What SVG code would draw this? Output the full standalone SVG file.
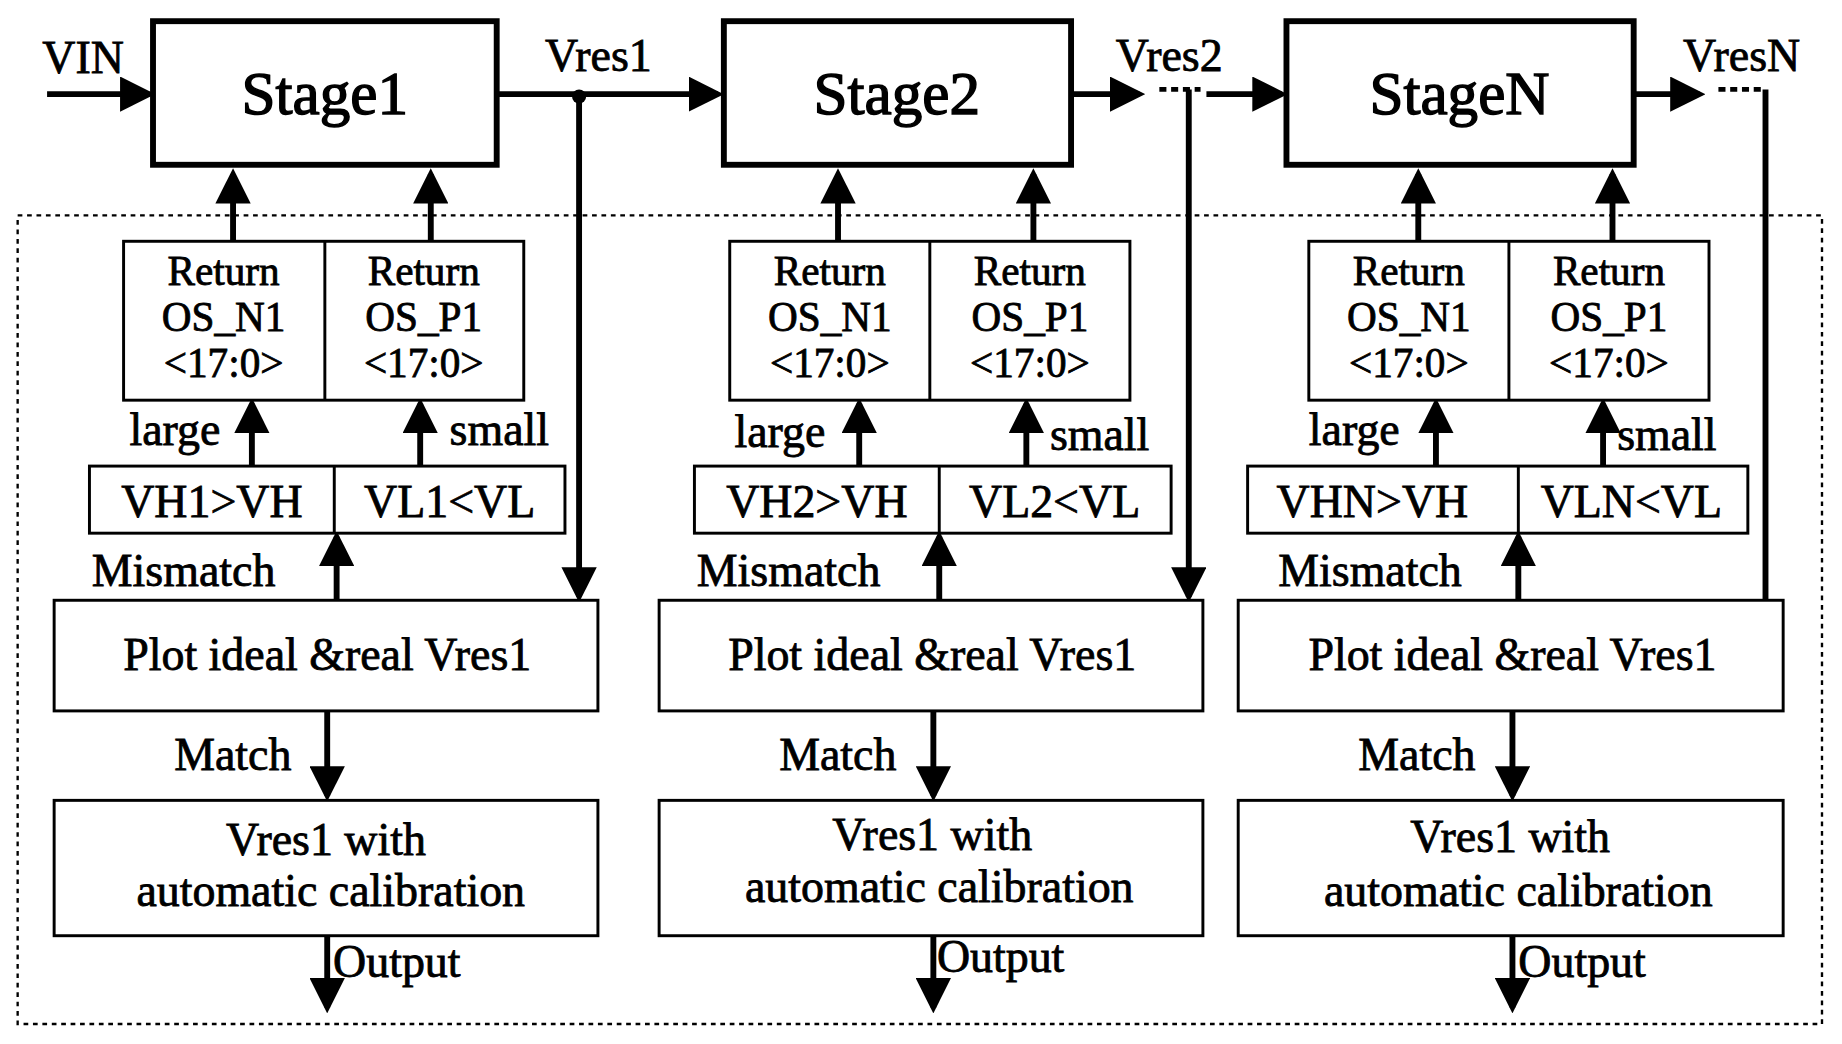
<svg xmlns="http://www.w3.org/2000/svg" width="1842" height="1044" viewBox="0 0 1842 1044">
<defs>
<marker id="ah" markerWidth="6" markerHeight="6" refX="5" refY="3" orient="auto" markerUnits="strokeWidth"><path d="M0,0 L6,3 L0,6 z" fill="#000"/></marker>
<style>
text{font-family:"Liberation Serif",serif;fill:#000;stroke:#000;stroke-width:0.7}
.st{font-size:52px;text-anchor:middle;stroke-width:1.2}
.t{font-size:39px;text-anchor:middle}
.r{font-size:35px;text-anchor:middle}
.l{font-size:39px}
.box{fill:#fff;stroke:#000;stroke-width:2.5}
.sbox{fill:#fff;stroke:#000;stroke-width:5}
.w{stroke:#000;stroke-width:5;fill:none}
.a{stroke:#000;stroke-width:5;fill:none;marker-end:url(#ah)}
</style>
</defs>
<rect width="1842" height="1044" fill="#fff"/>
<g transform="scale(1.177)">
<rect x="15" y="183" width="1533" height="687" fill="none" stroke="#000" stroke-width="2" stroke-dasharray="4,4"/>
<g id="connectors">
<line class="a" x1="40" y1="80" x2="127" y2="80"/>
<line class="a" x1="422" y1="80" x2="610" y2="80"/>
<circle cx="492" cy="82" r="6" fill="#000"/>
<line class="a" x1="492" y1="82" x2="492" y2="507"/>
<line class="a" x1="910" y1="80" x2="968" y2="80"/>
<line x1="985" y1="76" x2="1020" y2="76" stroke="#000" stroke-width="4" stroke-dasharray="6,4"/>
<line class="a" x1="1025" y1="80" x2="1089" y2="80"/>
<line class="a" x1="1010" y1="76" x2="1010" y2="507"/>
<line class="a" x1="1388" y1="80" x2="1444" y2="80"/>
<line x1="1460" y1="76" x2="1500" y2="76" stroke="#000" stroke-width="4" stroke-dasharray="6,4"/>
<line class="w" x1="1500" y1="76" x2="1500" y2="510"/>
<line class="a" x1="198" y1="205" x2="198" y2="148"/>
<line class="a" x1="366" y1="205" x2="366" y2="148"/>
<line class="a" x1="712" y1="205" x2="712" y2="148"/>
<line class="a" x1="878" y1="205" x2="878" y2="148"/>
<line class="a" x1="1205" y1="205" x2="1205" y2="148"/>
<line class="a" x1="1370" y1="205" x2="1370" y2="148"/>
<line class="a" x1="214" y1="396" x2="214" y2="343"/>
<line class="a" x1="357" y1="396" x2="357" y2="343"/>
<line class="a" x1="730" y1="396" x2="730" y2="343"/>
<line class="a" x1="872" y1="396" x2="872" y2="343"/>
<line class="a" x1="1220" y1="396" x2="1220" y2="343"/>
<line class="a" x1="1362" y1="396" x2="1362" y2="343"/>
<line class="a" x1="286" y1="510" x2="286" y2="456"/>
<line class="a" x1="798" y1="510" x2="798" y2="456"/>
<line class="a" x1="1290" y1="510" x2="1290" y2="456"/>
<line class="a" x1="278" y1="604" x2="278" y2="676"/>
<line class="a" x1="793" y1="604" x2="793" y2="676"/>
<line class="a" x1="1285" y1="604" x2="1285" y2="676"/>
<line class="a" x1="278" y1="795" x2="278" y2="856"/>
<line class="a" x1="793" y1="795" x2="793" y2="856"/>
<line class="a" x1="1285" y1="795" x2="1285" y2="856"/>
</g>
<text class="l" x="36" y="62">VIN</text>
<text class="l" x="463" y="60">Vres1</text>
<text class="l" x="948" y="60">Vres2</text>
<text class="l" x="1430" y="60">VresN</text>
<g id="stage1"><rect class="sbox" x="130" y="18" width="292" height="122"/><text class="st" x="276" y="97">Stage1</text></g>
<g id="stage2"><rect class="sbox" x="615" y="18" width="295" height="122"/><text class="st" x="762" y="97">Stage2</text></g>
<g id="stageN"><rect class="sbox" x="1093" y="18" width="295" height="122"/><text class="st" x="1240" y="97">StageN</text></g>
<g id="ret1"><rect class="box" x="105" y="205" width="340" height="135"/><line x1="276" y1="205" x2="276" y2="340" stroke="#000" stroke-width="2.5"/>
<text class="r" x="190" y="242">Return</text><text class="r" x="190" y="281">OS_N1</text><text class="r" x="190" y="320">&lt;17:0&gt;</text>
<text class="r" x="360" y="242">Return</text><text class="r" x="360" y="281">OS_P1</text><text class="r" x="360" y="320">&lt;17:0&gt;</text></g>
<g id="ret2"><rect class="box" x="620" y="205" width="340" height="135"/><line x1="790" y1="205" x2="790" y2="340" stroke="#000" stroke-width="2.5"/>
<text class="r" x="705" y="242">Return</text><text class="r" x="705" y="281">OS_N1</text><text class="r" x="705" y="320">&lt;17:0&gt;</text>
<text class="r" x="875" y="242">Return</text><text class="r" x="875" y="281">OS_P1</text><text class="r" x="875" y="320">&lt;17:0&gt;</text></g>
<g id="ret3"><rect class="box" x="1112" y="205" width="340" height="135"/><line x1="1282" y1="205" x2="1282" y2="340" stroke="#000" stroke-width="2.5"/>
<text class="r" x="1197" y="242">Return</text><text class="r" x="1197" y="281">OS_N1</text><text class="r" x="1197" y="320">&lt;17:0&gt;</text>
<text class="r" x="1367" y="242">Return</text><text class="r" x="1367" y="281">OS_P1</text><text class="r" x="1367" y="320">&lt;17:0&gt;</text></g>
<text class="l" x="110" y="378">large</text><text class="l" x="382" y="378">small</text>
<text class="l" x="624" y="380">large</text><text class="l" x="892" y="382">small</text>
<text class="l" x="1112" y="378">large</text><text class="l" x="1374" y="382">small</text>
<g id="cmp1"><rect class="box" x="76" y="396" width="404" height="57"/><line x1="284" y1="396" x2="284" y2="453" stroke="#000" stroke-width="2.5"/>
<text class="t" x="180" y="439">VH1&gt;VH</text><text class="t" x="382" y="439">VL1&lt;VL</text></g>
<g id="cmp2"><rect class="box" x="590" y="396" width="405" height="57"/><line x1="798" y1="396" x2="798" y2="453" stroke="#000" stroke-width="2.5"/>
<text class="t" x="694" y="439">VH2&gt;VH</text><text class="t" x="896" y="439">VL2&lt;VL</text></g>
<g id="cmp3"><rect class="box" x="1060" y="396" width="425" height="57"/><line x1="1290" y1="396" x2="1290" y2="453" stroke="#000" stroke-width="2.5"/>
<text class="t" x="1166" y="439">VHN&gt;VH</text><text class="t" x="1386" y="439">VLN&lt;VL</text></g>
<text class="l" x="78" y="498">Mismatch</text><text class="l" x="592" y="498">Mismatch</text><text class="l" x="1086" y="498">Mismatch</text>
<g id="plot1"><rect class="box" x="46" y="510" width="462" height="94"/><text class="t" x="278" y="569">Plot ideal &amp;real  Vres1</text></g>
<g id="plot2"><rect class="box" x="560" y="510" width="462" height="94"/><text class="t" x="792" y="569">Plot ideal &amp;real  Vres1</text></g>
<g id="plot3"><rect class="box" x="1052" y="510" width="463" height="94"/><text class="t" x="1285" y="569">Plot ideal &amp;real  Vres1</text></g>
<text class="l" x="148" y="654">Match</text><text class="l" x="662" y="654">Match</text><text class="l" x="1154" y="654">Match</text>
<g id="cal1"><rect class="box" x="46" y="680" width="462" height="115"/><text class="t" x="277" y="726">Vres1 with</text><text class="t" x="281" y="770">automatic calibration</text></g>
<g id="cal2"><rect class="box" x="560" y="680" width="462" height="115"/><text class="t" x="792" y="722">Vres1 with</text><text class="t" x="798" y="766">automatic calibration</text></g>
<g id="cal3"><rect class="box" x="1052" y="680" width="463" height="115"/><text class="t" x="1283" y="724">Vres1 with</text><text class="t" x="1290" y="770">automatic calibration</text></g>
<text class="l" x="283" y="830">Output</text><text class="l" x="796" y="826">Output</text><text class="l" x="1290" y="830">Output</text>
</g>
</svg>
